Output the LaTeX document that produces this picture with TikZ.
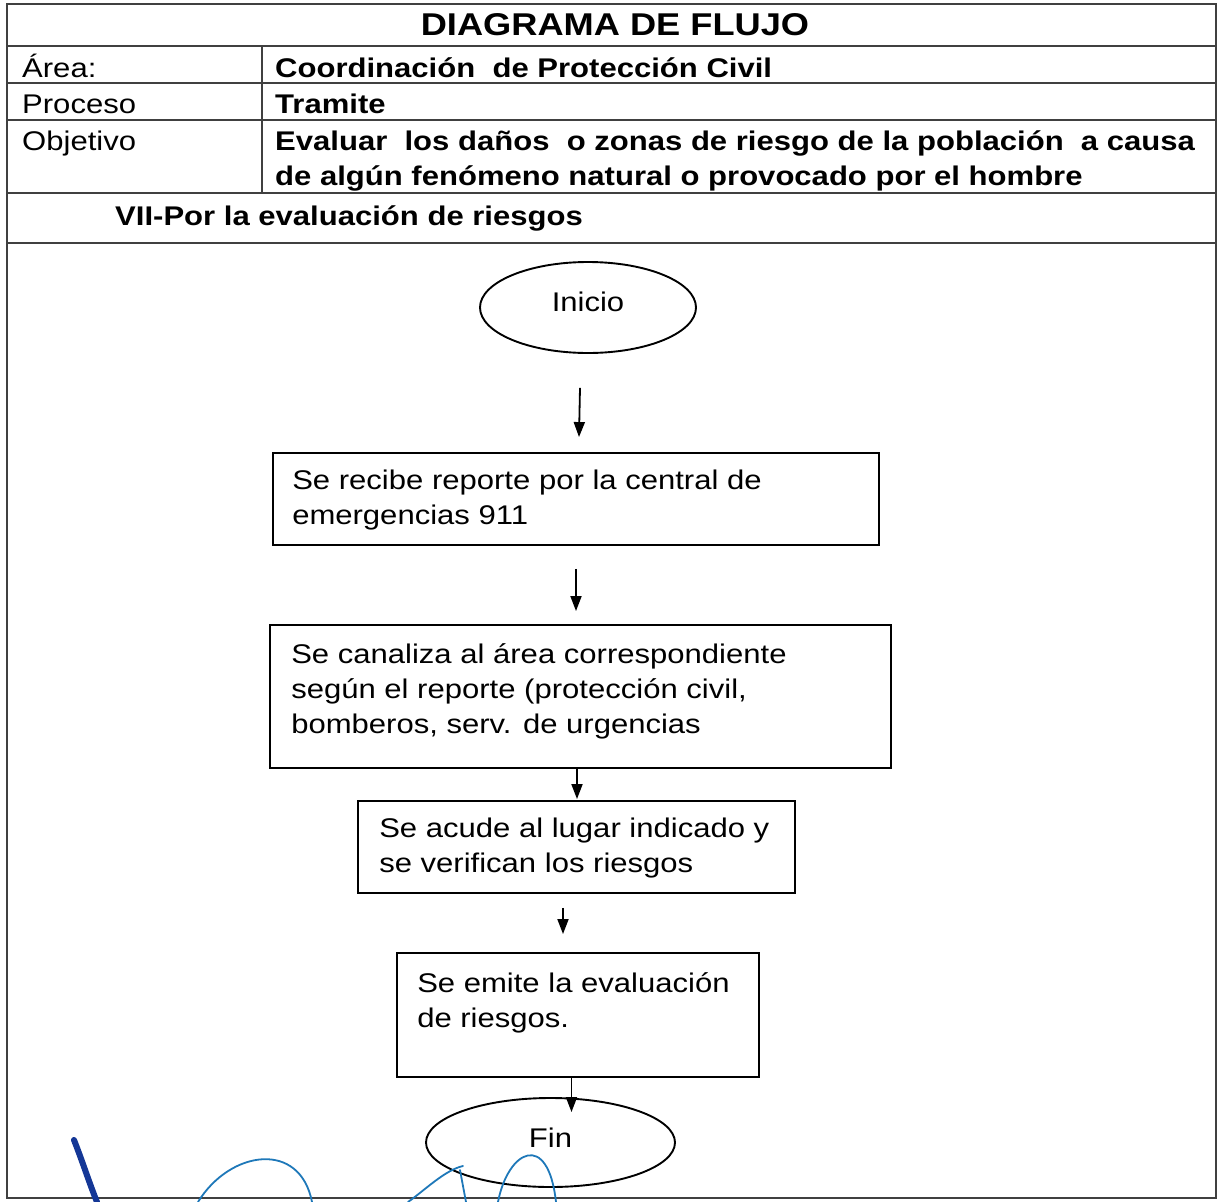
\documentclass[tikz,border=0pt]{standalone}
\usepackage{fontspec}
\setmainfont{Liberation Sans}[FakeStretch=1.15]
\usetikzlibrary{shapes.geometric,arrows.meta}
\newcommand\mylines[1]{\parbox[t]{1000pt}{\raggedright #1}}
\begin{document}
\begin{tikzpicture}[x=1pt,y=-1pt,
  frame/.style={line width=1.8pt,draw=black!75},
  boxnode/.style={draw,line width=1.9pt,rectangle,inner sep=0pt},
  ovalnode/.style={draw,line width=1.9pt,ellipse,inner sep=0pt,font=\fontsize{27}{35}\selectfont},
  txt/.style={inner sep=0pt,anchor=base west,font=\fontsize{27}{35}\selectfont},
  btxt/.style={txt,font=\fontsize{27}{35}\selectfont\bfseries},
  arr/.style={draw,line width=1.8pt,-{Triangle[length=15pt,width=11pt]}},
  sigdark/.style={draw={rgb,255:red,20;green,55;blue,150},line width=6pt,line cap=round},
  siglight/.style={draw={rgb,255:red,30;green,120;blue,185},line width=1.8pt,line cap=round}]
\useasboundingbox[fill=white] (0,0) rectangle (1219,1202);
% frame and table
\draw[frame] (7,4) rectangle (1216,1198);
\draw[frame] (7,46) -- (1216,46);
\draw[frame] (7,83) -- (1216,83);
\draw[frame] (7,120) -- (1216,120);
\draw[frame] (7,193) -- (1216,193);
\draw[frame] (7,243) -- (1216,243);
\draw[frame] (262,46) -- (262,193);
% header texts
\node[inner sep=0pt,anchor=base,font=\fontsize{31.5}{38}\selectfont\bfseries] (h0) at (615,35) {DIAGRAMA DE FLUJO};
\node[txt] (h1) at (22,77) {Área:};
\node[txt] (h2) at (22,113) {Proceso};
\node[txt] (h3) at (22,150) {Objetivo};
\node[btxt] (h4) at (275,77) {Coordinación\ \ de Protección Civil};
\node[btxt] (h5) at (275,113) {Tramite};
\node[btxt] (h6) at (275,150) {\mylines{Evaluar\ \ los daños\ \ o zonas de riesgo de la población\ \ a causa\\de algún fenómeno natural o provocado por el hombre}};
\node[btxt] (h7) at (115,225) {VII-Por la evaluación de riesgos};
% flow nodes
\node[ovalnode,minimum width=216pt,minimum height=91pt,text depth=12pt] (ini) at (588,307.5) {Inicio};
\node[boxnode,minimum width=606pt,minimum height=92pt] (b1) at (576,499) {};
\node[boxnode,minimum width=621pt,minimum height=143pt] (b2) at (580.5,696.5) {};
\node[boxnode,minimum width=437pt,minimum height=92pt] (b3) at (576.5,847) {};
\node[boxnode,minimum width=362pt,minimum height=124pt] (b4) at (578,1015) {};
\node[ovalnode,minimum width=249pt,minimum height=89pt,text depth=10pt] (fin) at (550.5,1142.5) {Fin};
% box texts
\node[txt] (t1) at ([shift={(20,37)}]b1.north west) {\mylines{Se recibe reporte por la central de\\emergencias 911}};
\node[txt] (t2) at ([shift={(22,39)}]b2.north west) {\mylines{Se canaliza al área correspondiente\\según el reporte (protección civil,\\bomberos, serv. de urgencias}};
\node[txt] (t3) at ([shift={(22,37)}]b3.north west) {\mylines{Se acude al lugar indicado y\\se verifican los riesgos}};
\node[txt] (t4) at ([shift={(21,40)}]b4.north west) {\mylines{Se emite la evaluación\\de riesgos.}};
% connectors
\draw[arr] ([shift={(-8,34)}]ini.south) -- ([shift={(3,-15)}]b1.north);
\draw[arr] ([shift={(0,23)}]b1.south) -- ([shift={(-4.5,-13)}]b2.north);
\draw[arr] ([shift={(-3.5,0)}]b2.south) -- ([shift={(0.5,-1)}]b3.north);
\draw[arr] ([shift={(-13.5,14)}]b3.south) -- ([shift={(-15,-18)}]b4.north);
\draw[arr] ([shift={(-6.5,0)}]b4.south) -- ([shift={(21,15)}]fin.north);
% signature strokes
\draw[sigdark] (74,1140) .. controls (82,1160) and (90,1185) .. (97,1202);
\draw[siglight] (198,1202) .. controls (230,1150) and (300,1140) .. (312,1202);
\draw[siglight] (408,1202) .. controls (425,1190) and (445,1170) .. (463,1166);
\draw[siglight] (460,1170) -- (466,1202);
\draw[siglight] (498,1202) .. controls (508,1150) and (548,1130) .. (556,1202);
\end{tikzpicture}
\end{document}
